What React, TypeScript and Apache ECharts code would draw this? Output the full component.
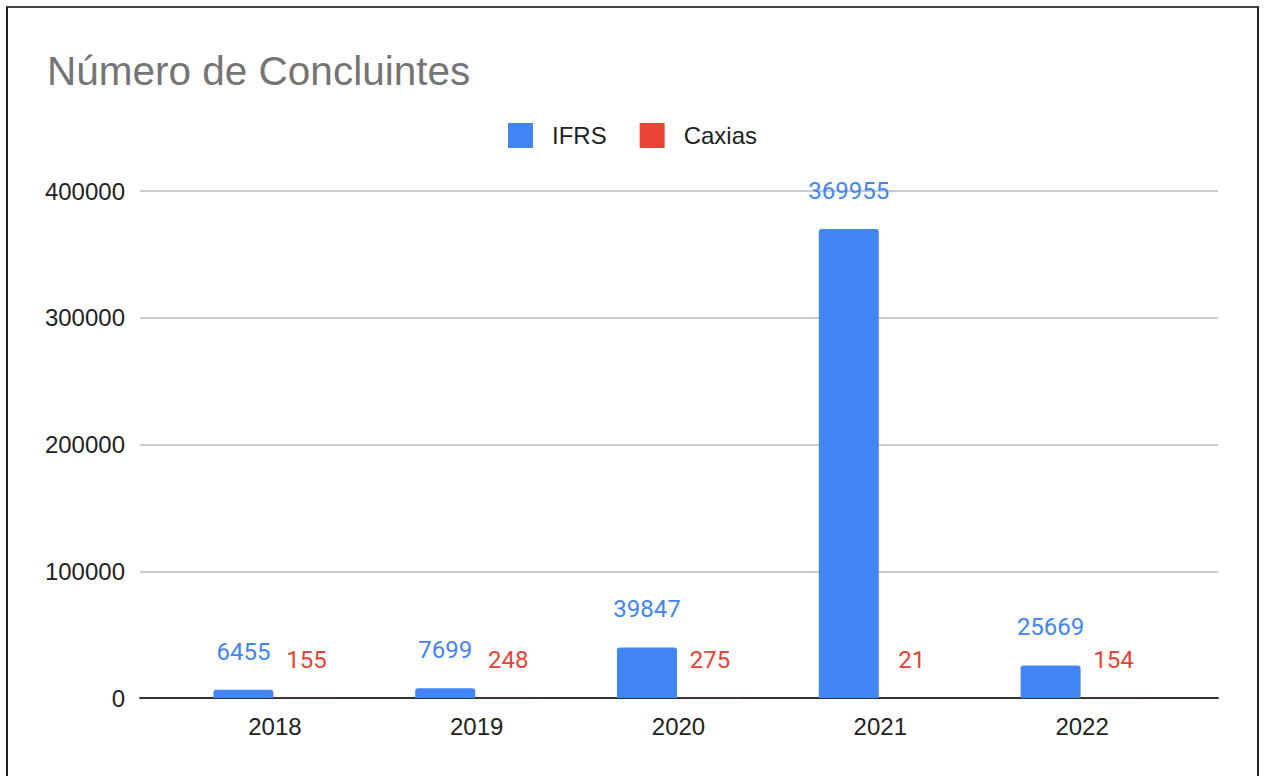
import React, { useEffect, useRef } from "react";
import * as echarts from "echarts";

const categories = ["2018", "2019", "2020", "2021", "2022"];
const ifrsValues = [6455, 7699, 39847, 369955, 25669];
const caxiasValues = [155, 248, 275, 21, 154];
const yTicks = [0, 100000, 200000, 300000, 400000];

const BLUE = "#4285F4";
const RED = "#EA4335";

export default function App() {
  const ref = useRef<HTMLDivElement>(null);

  useEffect(() => {
    if (!ref.current) return;
    const chart = echarts.init(ref.current, null, { renderer: "svg" });
    const yMin = yTicks[0];
    const yMax = yTicks[yTicks.length - 1];
    const yInterval = yTicks[1] - yTicks[0];
    chart.setOption({
      animation: false,
      backgroundColor: "#ffffff",
      title: {
        text: "Número de Concluintes",
        left: 47,
        top: 50,
        padding: 0,
        textStyle: {
          fontFamily: "Liberation Sans, Arial, sans-serif",
          fontSize: 40.5,
          fontWeight: "normal",
          color: "#757575",
        },
      },
      legend: {
        top: 118,
        left: "center",
        itemWidth: 25,
        itemHeight: 25,
        itemGap: 33,
        icon: "rect",
        itemStyle: { borderRadius: 3 },
        textStyle: {
          fontFamily: "Liberation Sans, Arial, sans-serif",
          fontSize: 24,
          color: "#222222",
          padding: [0, 0, 0, 14],
        },
        data: ["IFRS", "Caxias"],
      },
      grid: [
        { left: 140, right: 47, top: 191, bottom: 78 },
        { left: 174, right: 82, top: 191, bottom: 78 },
      ],
      xAxis: [
        {
          gridIndex: 0,
          type: "value",
          min: 0,
          max: 1,
          axisLine: { show: true, onZero: false, lineStyle: { color: "#333333", width: 2 } },
          axisTick: { show: false },
          axisLabel: { show: false },
          splitLine: { show: false },
        },
        {
          gridIndex: 1,
          type: "category",
          data: categories,
          axisLine: { show: false },
          axisTick: { show: false },
          axisLabel: {
            margin: 16,
            fontFamily: "Liberation Sans, Arial, sans-serif",
            fontSize: 24,
            color: "#222222",
          },
        },
      ],
      yAxis: [
        {
          gridIndex: 0,
          type: "value",
          min: yMin,
          max: yMax,
          interval: yInterval,
          axisLine: { show: false },
          axisTick: { show: false },
          axisLabel: {
            margin: 15,
            fontFamily: "Liberation Sans, Arial, sans-serif",
            fontSize: 24,
            color: "#222222",
            formatter: (v: number) => String(v),
          },
          splitLine: { lineStyle: { color: "#cccccc", width: 2 } },
        },
        {
          gridIndex: 1,
          type: "value",
          min: yMin,
          max: yMax,
          interval: yInterval,
          show: false,
          splitLine: { show: false },
        },
      ],
      series: [
        {
          name: "IFRS",
          type: "bar",
          xAxisIndex: 1,
          yAxisIndex: 1,
          data: ifrsValues,
          barWidth: 60,
          barGap: "5%",
          itemStyle: { color: BLUE, borderRadius: [3, 3, 0, 0] },
          label: {
            show: true,
            position: "top",
            distance: 26,
            fontFamily: "Roboto, sans-serif",
            fontSize: 24,
            color: BLUE,
          },
        },
        {
          name: "Caxias",
          type: "bar",
          xAxisIndex: 1,
          yAxisIndex: 1,
          data: caxiasValues,
          barWidth: 60,
          barGap: "5%",
          itemStyle: { color: RED, borderRadius: [3, 3, 0, 0] },
          label: {
            show: true,
            position: "top",
            distance: 26,
            fontFamily: "Roboto, sans-serif",
            fontSize: 24,
            color: RED,
          },
        },
      ],
    });
    return () => chart.dispose();
  }, []);

  return (
    <div
      style={{
        position: "fixed",
        left: 0,
        top: 0,
        width: 1265,
        height: 776,
        overflow: "hidden",
        background: "#ffffff",
      }}
    >
      <div ref={ref} style={{ position: "absolute", left: 0, top: 0, width: 1265, height: 776 }} />
      <div
        style={{
          position: "absolute",
          left: 6,
          top: 6,
          width: 1249,
          height: 800,
          borderLeft: "2px solid #222",
          borderTop: "2px solid #444",
          borderRight: "2px solid #222",
          pointerEvents: "none",
        }}
      />
    </div>
  );
}
